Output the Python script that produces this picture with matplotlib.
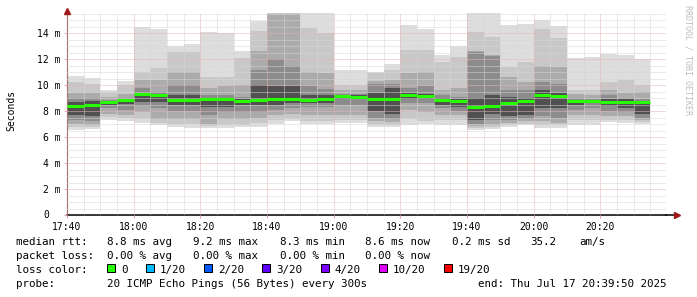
import matplotlib
matplotlib.use('Agg')
import matplotlib.pyplot as plt
import matplotlib.dates as mdates
from matplotlib.patches import Rectangle
import numpy as np
import pandas as pd

W, H = 697, 297

# one smoke bar every 5 minutes, 20 pings each
bar_start = pd.date_range('2025-07-17 17:40', periods=35, freq='5min')
x_end = pd.Timestamp('2025-07-17 20:39:50')

median_ms = [8.38, 8.44, 8.72, 8.82, 9.28, 9.21, 8.88, 8.88, 8.90, 8.90,
             8.80, 8.85, 8.92, 8.92, 8.87, 8.92, 9.13, 9.10, 8.92, 8.95,
             9.23, 9.15, 8.85, 8.77, 8.30, 8.36, 8.64, 8.75, 9.20, 9.15,
             8.77, 8.77, 8.69, 8.67, 8.67]

# smoke bands (outer -> inner), ms
ping_max = [10.7, 10.55, 9.6, 10.3, 14.5, 14.3, 13.0, 13.15, 14.05, 14.0,
            12.6, 14.9, 15.6, 15.6, 15.6, 15.6, 11.2, 11.15, 11.0, 11.6,
            14.6, 14.35, 12.3, 13.0, 15.6, 15.6, 14.6, 14.7, 15.0, 14.55,
            12.05, 12.2, 12.4, 12.3, 12.0]
band1_hi = [10.2, 10.1, 9.45, 10.0, 11.0, 11.3, 12.55, 12.55, 10.65, 10.65,
            12.05, 14.2, 15.6, 15.6, 14.4, 14.0, 10.0, 10.0, 10.9, 11.15,
            12.7, 12.7, 11.8, 12.2, 14.1, 13.7, 11.4, 11.8, 14.35, 13.6,
            9.6, 9.6, 10.25, 10.4, 10.0]
band2_hi = [9.4, 9.4, 9.1, 9.35, 10.4, 10.4, 11.0, 11.0, 9.75, 9.9,
            10.0, 12.6, 15.5, 15.5, 11.0, 10.9, 9.6, 9.6, 10.3, 10.4,
            10.9, 11.0, 9.6, 9.75, 12.6, 12.3, 10.6, 10.25, 11.5, 11.4,
            9.3, 9.2, 9.6, 9.4, 9.5]
band3_hi = [9.0, 9.0, 8.85, 9.0, 9.75, 9.5, 10.0, 10.0, 9.25, 9.25,
            9.1, 11.2, 12.0, 11.5, 9.9, 9.7, 9.35, 9.35, 10.1, 10.1,
            9.75, 9.9, 9.2, 9.1, 12.55, 12.25, 9.6, 9.6, 10.25, 10.1,
            9.0, 8.9, 9.2, 9.0, 8.9]
band4_hi = [8.7, 8.8, 8.78, 8.9, 9.4, 9.35, 9.2, 9.2, 9.0, 9.0,
            8.95, 10.0, 9.9, 9.9, 9.2, 9.2, 9.2, 9.2, 9.4, 9.8,
            9.4, 9.35, 9.0, 8.9, 9.0, 9.2, 9.1, 9.0, 9.6, 9.4,
            8.85, 8.82, 8.95, 8.9, 8.75]
band4_lo = [7.7, 7.6, 8.5, 8.55, 8.7, 8.7, 8.5, 8.5, 8.3, 8.3,
            8.45, 8.5, 8.5, 8.6, 8.6, 8.6, 8.9, 8.9, 8.0, 7.8,
            8.9, 8.95, 8.5, 8.3, 7.3, 7.8, 7.6, 7.7, 8.2, 8.2,
            8.5, 8.6, 8.4, 8.2, 7.8]
band3_lo = [7.3, 7.2, 8.2, 8.1, 8.4, 8.2, 8.0, 8.0, 7.7, 7.9,
            7.95, 7.9, 8.1, 8.2, 8.3, 8.3, 8.5, 8.5, 7.5, 7.4,
            8.6, 8.6, 8.2, 8.0, 7.0, 7.3, 7.3, 7.4, 7.6, 7.45,
            8.1, 8.2, 8.0, 7.9, 7.5]
band2_lo = [7.0, 6.95, 7.8, 7.7, 7.95, 7.4, 7.4, 7.4, 7.0, 7.4,
            7.4, 7.5, 7.7, 7.8, 7.7, 7.7, 7.7, 7.7, 7.2, 7.15,
            8.1, 7.95, 7.7, 7.7, 6.85, 6.95, 7.05, 7.2, 7.2, 7.05,
            7.7, 7.7, 7.6, 7.6, 7.3]
band1_lo = [6.75, 6.75, 7.55, 7.5, 7.4, 7.1, 7.0, 7.0, 6.85, 6.9,
            6.95, 7.1, 7.3, 7.4, 7.2, 7.2, 7.3, 7.3, 6.95, 6.95,
            7.4, 7.2, 7.3, 7.3, 6.7, 6.75, 6.9, 7.0, 6.95, 6.9,
            7.3, 7.3, 7.3, 7.3, 7.15]
ping_min = [6.55, 6.62, 7.3, 7.25, 7.05, 6.9, 6.75, 6.7, 6.67, 6.67,
            6.8, 6.8, 7.0, 7.25, 7.0, 7.0, 7.05, 7.05, 6.75, 6.75,
            6.95, 6.97, 6.92, 6.9, 6.55, 6.65, 6.8, 6.92, 6.7, 6.7,
            6.9, 6.9, 7.15, 7.12, 7.0]

smoke_colors = ['#dddddd', '#c8c8c8', '#ababab', '#8c8c8c', '#505050']

y_ticks = [0, 2, 4, 6, 8, 10, 12, 14]
y_labels = ['', '2 m', '4 m', '6 m', '8 m', '10 m', '12 m', '14 m']

stats_rtt = ['8.8 ms avg', '9.2 ms max', '8.3 ms min', '8.6 ms now', '0.2 ms sd', '35.2', 'am/s']
stats_loss = ['0.00 % avg', '0.00 % max', '0.00 % min', '0.00 % now']
loss_labels = ['0', '1/20', '2/20', '3/20', '4/20', '10/20', '19/20']
loss_colors = ['#26ff00', '#00b8ff', '#0059ff', '#5e00ff', '#7e00ff', '#dd00ff', '#ff0000']
probe_text = '20 ICMP Echo Pings (56 Bytes) every 300s'
end_text = 'end: Thu Jul 17 20:39:50 2025'

MONO = 'DejaVu Sans Mono'


def px(x, y):
    return x / W, 1 - y / H


fig = plt.figure(figsize=(W / 100, H / 100), dpi=100)
x0 = bar_start[0]
x_left, y_bottom = 67, 215
x_span = (x_end - x0).total_seconds() / 60 / 0.3  # 0.3 min per pixel
ax = fig.add_axes([x_left / W, 1 - y_bottom / H, x_span / W, (y_bottom - 13) / H])

t = mdates.date2num(bar_start)
edges = np.append(t, t[-1] + 5 / 1440)


def ext(v):
    return list(v) + [v[-1]]


bands = [(ping_min, ping_max), (band1_lo, band1_hi), (band2_lo, band2_hi),
         (band3_lo, band3_hi), (band4_lo, band4_hi)]
for (lo, hi), c in zip(bands, smoke_colors):
    ax.fill_between(edges, ext(lo), ext(hi), step='post', color=c, lw=0, zorder=1)

ax.hlines(median_ms, t, t + 5 / 1440, colors=loss_colors[0], lw=2.2, zorder=3,
          capstyle='butt')

ax.set_xlim(mdates.date2num(x0), mdates.date2num(x_end))
ax.set_ylim(0, 15.55)

ax.xaxis.set_major_locator(mdates.MinuteLocator(byminute=[0, 20, 40]))
ax.xaxis.set_minor_locator(mdates.MinuteLocator(byminute=range(0, 60, 5)))
ax.xaxis.set_major_formatter(mdates.DateFormatter('%H:%M'))
ax.set_yticks(y_ticks)
ax.set_yticklabels(y_labels)
ax.yaxis.set_minor_locator(matplotlib.ticker.MultipleLocator(0.5))

ax.set_axisbelow(False)
ax.grid(which='minor', color='#d6d6d6', lw=0.72, ls=(0, (1, 1)))
ax.grid(which='major', color='#e8b4b4', lw=0.72, ls=(0, (1, 1)))
ax.tick_params(which='minor', length=0)
ax.tick_params(which='major', length=2.2, width=0.72, color='#e2a6a6', pad=2.5,
               labelsize=7)
for lbl in ax.get_xticklabels() + ax.get_yticklabels():
    lbl.set_fontfamily(MONO)

for s in ['top', 'right']:
    ax.spines[s].set_visible(False)
ax.spines['left'].set_color('#6e2e2e')
ax.spines['left'].set_linewidth(0.8)
ax.spines['bottom'].set_color('black')
ax.spines['bottom'].set_linewidth(1.1)

# axis arrows
xr = mdates.date2num(x_end)
ax.plot([xr, xr + 2.4 / 1440], [0, 0], color='black', lw=1.1, clip_on=False)
ax.plot([xr + 3.3 / 1440], [0], marker='>', ms=4.5, color='#a01818', clip_on=False,
        zorder=5)
ax.plot([mdates.date2num(x0)], [15.72], marker='^', ms=4.5, color='#a01818',
        clip_on=False, zorder=5)

fig.text(*px(49, 215), '0', family=MONO, fontsize=7, ha='right', va='center')

fig.text(*px(11, 110), 'Seconds', family=MONO, fontsize=7, rotation=90,
         ha='center', va='center')
fig.text(*px(688, 5), 'RRDTOOL / TOBI OETIKER', family=MONO, fontsize=6,
         color='#bdbdbd', rotation=270, ha='center', va='top')

# legend block
fs = 7.8
fig.text(*px(16, 245), 'median rtt:', family=MONO, fontsize=fs, va='baseline')
for xp, s in zip([106.7, 193.3, 280, 365, 451.7, 530, 579.3], stats_rtt):
    fig.text(*px(xp, 245), s, family=MONO, fontsize=fs, va='baseline')

fig.text(*px(16, 259), 'packet loss:', family=MONO, fontsize=fs, va='baseline')
for xp, s in zip([106.7, 193.3, 280, 365], stats_loss):
    fig.text(*px(xp, 259), s, family=MONO, fontsize=fs, va='baseline')

fig.text(*px(16, 272.8), 'loss color:', family=MONO, fontsize=fs, va='baseline')
cx = 107
for lab, c in zip(loss_labels, loss_colors):
    bx, by = px(cx, 271.5)
    fig.patches.append(Rectangle((bx, by), 8 / W, 8 / H, transform=fig.transFigure,
                                 facecolor=c, edgecolor='black', lw=0.72))
    fig.text(*px(cx + 14, 272.8), lab, family=MONO, fontsize=fs, va='baseline')
    cx += 14 + 6.5 * len(lab) + 18.3

fig.text(*px(16, 286.7), 'probe:', family=MONO, fontsize=fs, va='baseline')
fig.text(*px(107, 286.7), probe_text, family=MONO, fontsize=fs, va='baseline')
fig.text(*px(478.3, 286.7), end_text, family=MONO, fontsize=fs, va='baseline')

fig.savefig('out.png', dpi=100, facecolor='white')
